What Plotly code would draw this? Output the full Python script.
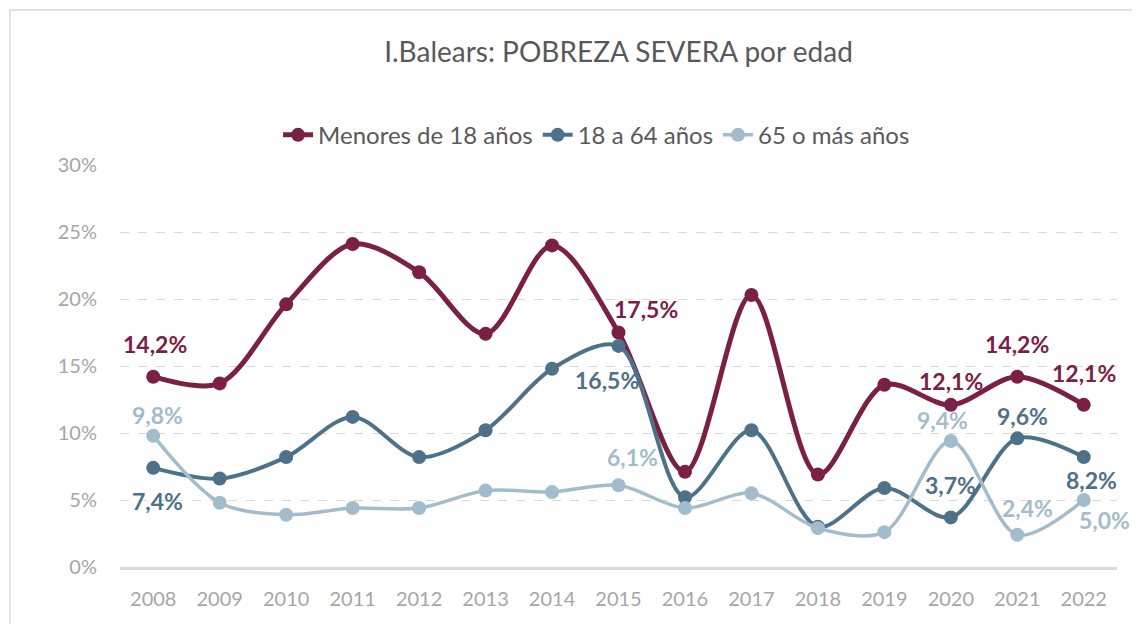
import plotly.graph_objects as go

years = [str(y) for y in range(2008, 2023)]
menores = [14.2, 13.7, 19.6, 24.1, 22.0, 17.4, 24.0, 17.5, 7.1, 20.3, 6.9, 13.6, 12.1, 14.2, 12.1]
adultos = [7.4, 6.6, 8.2, 11.2, 8.2, 10.2, 14.8, 16.5, 5.2, 10.2, 3.0, 5.9, 3.7, 9.6, 8.2]
mayores = [9.8, 4.8, 3.9, 4.4, 4.4, 5.7, 5.6, 6.1, 4.4, 5.5, 2.9, 2.6, 9.4, 2.4, 5.0]
names = ["Menores de 18 años", "18 a 64 años", "65 o más años"]
colors = ["#7B2045", "#4D7189", "#A2BCCB"]
widths = [5, 4, 3.5]

# which points get a data label, with pixel offsets (dx, dy; dy positive = down)
label_offsets = [
    {0: (2, -33), 7: (27, -24), 12: (0, -24), 13: (0, -33), 14: (0, -32)},
    {0: (4, 33), 7: (-12, 34), 12: (0, -32), 13: (5, -22), 14: (8, 23)},
    {0: (4, -21), 7: (14, -28), 12: (-8, -21), 13: (10, -27), 14: (21, 20)},
]

series = [menores, adultos, mayores]
fig = go.Figure()
for vals, name, col, w in zip(series, names, colors, widths):
    fig.add_trace(go.Scatter(
        x=years, y=[v / 100 for v in vals], name=name, mode="lines+markers",
        line=dict(color=col, width=w, shape="spline", smoothing=0.9),
        marker=dict(size=14, color=col),
    ))

annotations = []
for vals, col, offs in zip(series, colors, label_offsets):
    for i, (dx, dy) in offs.items():
        annotations.append(dict(
            x=i, y=vals[i] / 100, xref="x", yref="y",
            text="<b>" + f"{vals[i]:.1f}%".replace(".", ",") + "</b>", showarrow=False,
            xshift=dx, yshift=-dy,
            font=dict(family="Lato", size=23, color=col),
        ))

# page body has an 8px margin, so the figure sits at (8, 8)
W, H = 1132, 616
fig.update_layout(
    width=W, height=H,
    margin=dict(l=112, r=W - 1109, t=157, b=H - 559),
    paper_bgcolor="white", plot_bgcolor="white",
    title=dict(text="I.Balears: POBREZA SEVERA por edad", x=0.5, xref="paper", xanchor="center",
               y=1 - 44 / H, yref="container", yanchor="middle",
               font=dict(family="Lato", size=28, color="#595959")),
    legend=dict(orientation="h", x=0.478, xanchor="center", y=1.074, yanchor="middle",
                font=dict(family="Lato", size=24, color="#595959"),
                bgcolor="rgba(0,0,0,0)", tracegroupgap=0),
    showlegend=True,
    annotations=annotations,
    shapes=[dict(type="rect", xref="paper", yref="paper", x0=-0.1103, x1=1.2, y0=-0.3, y1=1.3856,
                 line=dict(color="#D9D9D9", width=1.5), layer="below")],
)
fig.update_xaxes(type="category", range=[-0.5, 14.5], showgrid=False, showline=True,
                 linecolor="#D9D9D9", linewidth=3, ticks="", ticklabelstandoff=12,
                 tickfont=dict(family="Lato", size=20, color="#A6A6A6"))
fig.update_yaxes(range=[0, 0.30], tickvals=[0, 0.05, 0.10, 0.15, 0.20, 0.25, 0.30],
                 tickformat=".0%", showgrid=True, gridcolor="#D9D9D9", griddash="dash",
                 gridwidth=1.3, zeroline=False, ticklabelstandoff=22,
                 tickfont=dict(family="Lato", size=20, color="#A6A6A6"))

fig.write_html("out.html")
